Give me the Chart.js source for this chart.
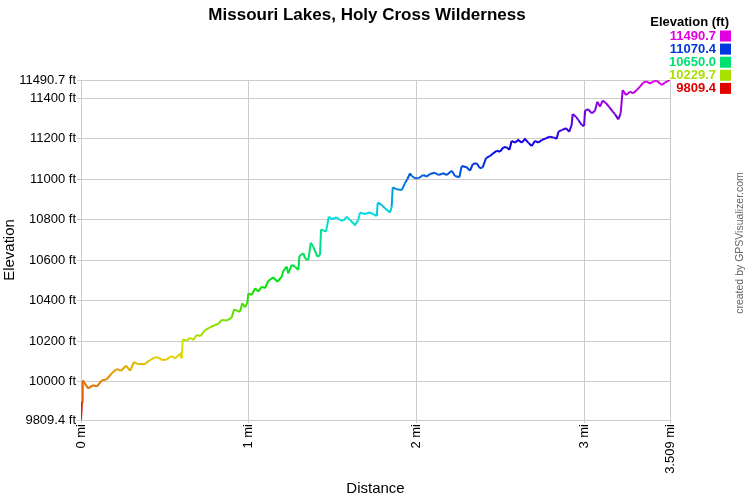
<!DOCTYPE html>
<html>
<head>
<meta charset="utf-8">
<script src="https://cdn.jsdelivr.net/npm/chart.js@4/dist/chart.umd.min.js"></script>
<style>
  body { margin: 0; background: #fff; }
  #wrap { width: 750px; height: 500px; }
</style>
</head>
<body>
<div id="wrap"><canvas id="profile"></canvas></div>
<script>
// distance along the track (mi) and elevation (ft)
let distances = [0, 0.006, 0.010, 0.043, 0.073, 0.094, 0.123, 0.153, 0.183, 0.213, 0.237, 0.268, 0.292, 0.316, 0.341, 0.381, 0.411, 0.441, 0.461, 0.481,
  0.511, 0.540, 0.560, 0.590, 0.600, 0.606, 0.630, 0.650, 0.669, 0.689, 0.713, 0.739, 0.769, 0.798, 0.818, 0.838, 0.868, 0.898, 0.912, 0.928,
  0.947, 0.961, 0.977, 0.991, 0.997, 1.017, 1.037, 1.056, 1.077, 1.096, 1.116, 1.146, 1.170, 1.196, 1.205, 1.225, 1.235, 1.255, 1.275, 1.295,
  1.301, 1.324, 1.335, 1.354, 1.369, 1.384, 1.408, 1.424, 1.430, 1.460, 1.476, 1.494, 1.523, 1.543, 1.563, 1.583, 1.603, 1.632, 1.652, 1.662,
  1.692, 1.718, 1.741, 1.762, 1.768, 1.791, 1.811, 1.841, 1.851, 1.857, 1.881, 1.911, 1.930, 1.944, 1.960, 1.970, 1.990, 2.010, 2.039, 2.059,
  2.079, 2.109, 2.129, 2.159, 2.179, 2.209, 2.228, 2.254, 2.268, 2.298, 2.318, 2.334, 2.357, 2.377, 2.393, 2.413, 2.437, 2.456, 2.477, 2.496,
  2.516, 2.536, 2.552, 2.566, 2.586, 2.605, 2.626, 2.645, 2.665, 2.685, 2.705, 2.724, 2.745, 2.770, 2.790, 2.814, 2.834, 2.844, 2.864, 2.889,
  2.909, 2.923, 2.929, 2.949, 2.963, 2.983, 2.997, 3.003, 3.022, 3.043, 3.062, 3.076, 3.092, 3.108, 3.128, 3.147, 3.168, 3.181, 3.201, 3.215,
  3.227, 3.247, 3.271, 3.290, 3.311, 3.330, 3.350, 3.370, 3.390, 3.410, 3.429, 3.449, 3.459, 3.479, 3.509]
let elevations = [9809.4, 9900, 10005, 9966, 9982, 9974, 10004, 10011, 10040, 10062, 10052, 10078, 10053, 10096, 10086, 10086, 10106, 10119, 10119, 10106,
  10109, 10126, 10114, 10136, 10114, 10208, 10201, 10216, 10205, 10230, 10225, 10254, 10268, 10279, 10284, 10304, 10301, 10317, 10357, 10350,
  10345, 10386, 10367, 10389, 10436, 10428, 10461, 10444, 10469, 10461, 10497, 10515, 10493, 10518, 10546, 10568, 10535, 10576, 10568, 10551,
  10620, 10634, 10609, 10600, 10686, 10666, 10617, 10625, 10752, 10741, 10815, 10802, 10812, 10798, 10795, 10815, 10798, 10774, 10798, 10835,
  10828, 10835, 10828, 10818, 10884, 10873, 10856, 10835, 10864, 10960, 10950, 10947, 10980, 11000, 11029, 11016, 11005, 11005, 11021, 11013,
  11026, 11032, 11021, 11029, 11021, 11042, 11016, 11010, 11065, 11059, 11042, 11075, 11079, 11054, 11059, 11104, 11115, 11128, 11141, 11136,
  11158, 11158, 11145, 11190, 11181, 11194, 11181, 11199, 11181, 11164, 11190, 11181, 11194, 11202, 11210, 11207, 11200, 11235, 11243, 11252,
  11235, 11268, 11322, 11309, 11293, 11268, 11263, 11339, 11346, 11326, 11339, 11383, 11359, 11389, 11376, 11356, 11334, 11322, 11296, 11326,
  11441, 11416, 11433, 11425, 11441, 11458, 11478, 11483, 11474, 11483, 11488, 11474, 11466, 11478, 11490.7]

let xTicks = [0, 1, 2, 3, 3.509]
let yTicks = [9809.4, 10000, 10200, 10400, 10600, 10800, 11000, 11200, 11400, 11490.7]
let legendValues = ['11490.7', '11070.4', '10650.0', '10229.7', '9809.4']

let minEle = 9809.4
let maxEle = 11490.7

let fontFam = '"Liberation Sans", Arial, sans-serif'

// colour by elevation: red at the bottom, magenta at the top
function eleColor(v) {
  let f = (v - minEle) / (maxEle - minEle)
  f = Math.max(0, Math.min(1, f))
  return 'hsl(' + (300 * f) + ',100%,44%)'
}

let points = distances.map((d, i) => ({ x: d, y: elevations[i] }))

let extras = {
  id: 'extras',
  afterDraw(chart) {
    let c = chart.ctx
    c.save()
    c.fillStyle = '#000'
    c.textAlign = 'center'
    c.textBaseline = 'middle'
    c.font = 'bold 17px ' + fontFam
    c.fillText('Missouri Lakes, Holy Cross Wilderness', 367, 15)

    // legend, top right
    c.textAlign = 'right'
    c.font = 'bold 13px ' + fontFam
    c.fillText('Elevation (ft)', 729, 22)
    legendValues.forEach((v, i) => {
      let y = 36 + i * 13.1
      let col = eleColor(parseFloat(v))
      c.fillStyle = col
      c.fillText(v, 716, y)
      c.fillRect(720, y - 5.5, 11, 11)
    })

    // credit
    c.translate(740, 243)
    c.rotate(-Math.PI / 2)
    c.textAlign = 'center'
    c.fillStyle = '#666'
    c.font = '10.5px ' + fontFam
    c.fillText('created by GPSVisualizer.com', 0, 0)
    c.restore()
  }
}

let profile = new Chart(document.querySelector('#profile'), {
  type: 'line',
  data: {
    datasets: [{
      data: points,
      borderWidth: 2,
      pointRadius: 0,
      tension: 0,
      fill: false,
      segment: {
        borderColor: ctx => eleColor((ctx.p0.parsed.y + ctx.p1.parsed.y) / 2)
      }
    }]
  },
  options: {
    responsive: true,
    maintainAspectRatio: false,
    animation: false,
    layout: { padding: { top: 80, right: 80, left: 0, bottom: 0 } },
    plugins: {
      legend: { display: false },
      tooltip: { enabled: false }
    },
    scales: {
      x: {
        type: 'linear',
        min: 0,
        max: 3.509,
        afterBuildTicks: s => { s.ticks = xTicks.map(v => ({ value: v })) },
        afterFit: s => { s.height = 80 },
        ticks: {
          minRotation: 90,
          maxRotation: 90,
          padding: 1,
          color: '#000',
          font: { family: fontFam, size: 13 },
          callback: v => v + ' mi'
        },
        grid: { color: '#ccc', tickLength: 3 },
        border: { color: '#ccc' },
        title: {
          display: true,
          text: 'Distance',
          color: '#000',
          padding: { top: 2, bottom: 2 },
          font: { family: fontFam, size: 15 }
        }
      },
      y: {
        min: minEle,
        max: maxEle,
        afterBuildTicks: s => { s.ticks = yTicks.map(v => ({ value: v })) },
        afterFit: s => { s.width = 81 },
        ticks: {
          padding: 1,
          color: '#000',
          font: { family: fontFam, size: 13 },
          callback: v => v + ' ft'
        },
        grid: { color: '#ccc', tickLength: 4 },
        border: { color: '#ccc' },
        title: {
          display: true,
          text: 'Elevation',
          color: '#000',
          padding: { top: 1, bottom: 1 },
          font: { family: fontFam, size: 15 }
        }
      }
    }
  },
  plugins: [extras]
})
</script>
</body>
</html>
